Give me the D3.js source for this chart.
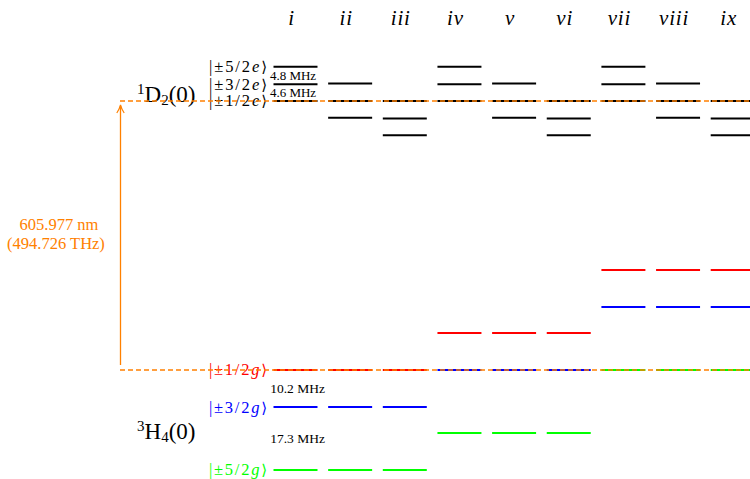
<!DOCTYPE html>
<html>
<head>
<meta charset="utf-8">
<script src="https://cdn.jsdelivr.net/npm/d3@7"></script>
<style>
  html, body { margin: 0; padding: 0; background: #fff; }
  svg { display: block; }
</style>
</head>
<body>
<svg id="chart" width="750" height="479" font-family="'Liberation Serif', 'DejaVu Serif', serif"></svg>
<script>
// Transition columns: each pairs a ground sublevel with an excited sublevel
const columnLabels = ["i", "ii", "iii", "iv", "v", "vi", "vii", "viii", "ix"];
const groundRef  = [0, 0, 0, 1, 1, 1, 2, 2, 2];   // index into groundStates
const excitedRef = [0, 1, 2, 0, 1, 2, 0, 1, 2];   // index into excitedStates

// Hyperfine sublevels (energies in MHz relative to the ±1/2 level)
const groundStates  = ["±1/2", "±3/2", "±5/2"];
const groundEnergy  = [0, -10.2, -27.5];
const groundColors  = ["#ff0000", "#0000ff", "#00ff00"];
const excitedStates = ["±1/2", "±3/2", "±5/2"];
const excitedEnergy = [0, 4.6, 9.4];

// Splitting annotations
const groundGapLabels  = ["10.2 MHz", "17.3 MHz"];
const excitedGapLabels = ["4.6 MHz", "4.8 MHz"];

// Optical transition
const wavelengthLabel = "605.977 nm";
const frequencyLabel  = "(494.726 THz)";

const orange = "#ff8000";
const pxPerMHz = 100 / 27.5;
const svg = d3.select("#chart");

const x = d3.scaleBand()
  .domain(columnLabels)
  .range([273.5, 754.7])
  .paddingInner(0.195)
  .paddingOuter(0);

const yExcited0 = 101, yGround0 = 370;
const yE = d3.scaleLinear().domain([0, 10]).range([yExcited0, yExcited0 - 10 * pxPerMHz]);
const yG = d3.scaleLinear().domain([0, -30]).range([yGround0, yGround0 + 30 * pxPerMHz]);

// Column headers
svg.append("g").selectAll("text")
  .data(columnLabels)
  .join("text")
  .attr("x", d => x(d) + x.bandwidth() / 2 - 4)
  .attr("y", 25)
  .attr("text-anchor", "middle")
  .attr("font-size", 21)
  .attr("font-style", "italic")
  .attr("letter-spacing", 0.8)
  .text(d => d);

// Level lines per column
const lines = [];
columnLabels.forEach((c, k) => {
  excitedEnergy.forEach((e) => {
    lines.push({ c, y: yE(e - excitedEnergy[excitedRef[k]]), color: "#000" });
  });
  groundEnergy.forEach((g, j) => {
    lines.push({ c, y: yG(g - groundEnergy[groundRef[k]]), color: groundColors[j] });
  });
});
svg.append("g").selectAll("line")
  .data(lines)
  .join("line")
  .attr("x1", d => x(d.c))
  .attr("x2", d => x(d.c) + x.bandwidth())
  .attr("y1", d => d.y)
  .attr("y2", d => d.y)
  .attr("stroke", d => d.color)
  .attr("stroke-width", 2);

// Ket labels
function ket(g, label, sub, yPos, color) {
  const t = g.append("text")
    .attr("x", 267)
    .attr("y", yPos)
    .attr("dy", "0.33em")
    .attr("text-anchor", "end")
    .attr("font-size", 16.5)
    .attr("textLength", 58)
    .attr("lengthAdjust", "spacing")
    .attr("fill", color);
  t.append("tspan").text("|" + label);
  t.append("tspan").attr("font-style", "italic").text(sub);
  t.append("tspan").attr("font-family", "DejaVu Serif").attr("font-size", 15).text("\u27E9");
}
const kets = svg.append("g");
excitedStates.forEach((s, j) => ket(kets, s, "e", yE(excitedEnergy[j]), "#000"));
groundStates.forEach((s, j) => ket(kets, s, "g", yG(groundEnergy[j]), groundColors[j]));

// Splitting labels
const gaps = svg.append("g").attr("font-size", 13.5);
excitedGapLabels.forEach((lab, j) => {
  gaps.append("text")
    .attr("x", 293)
    .attr("y", (yE(excitedEnergy[j]) + yE(excitedEnergy[j + 1])) / 2)
    .attr("dy", "0.35em")
    .attr("text-anchor", "middle")
    .attr("font-size", 13)
    .text(lab);
});
groundGapLabels.forEach((lab, j) => {
  gaps.append("text")
    .attr("x", 297.5)
    .attr("y", (yG(groundEnergy[j]) + yG(groundEnergy[j + 1])) / 2)
    .attr("dy", "0.35em")
    .attr("text-anchor", "middle")
    .text(lab);
});

// Manifold labels
function term(sup, letter, sub, yPos) {
  const t = svg.append("text")
    .attr("x", 137)
    .attr("y", yPos)
    .attr("dy", "0.35em")
    .attr("font-size", 23);
  t.append("tspan").attr("font-size", 15).attr("dy", "-0.5em").text(sup);
  t.append("tspan").attr("dy", "0.35em").text(letter);
  t.append("tspan").attr("font-size", 15).attr("dy", "0.25em").text(sub);
  t.append("tspan").attr("dy", "-0.16em").text("(0)");
}
term("1", "D", "2", yE(0));
term("3", "H", "4", 438);

// Optical transition arrow and reference lines
const opt = svg.append("g").attr("stroke", orange).attr("fill", "none");
opt.append("line")
  .attr("x1", 120.5).attr("x2", 120.5)
  .attr("y1", yG(0) - 5).attr("y2", yE(0) + 5)
  .attr("stroke-width", 1.3);
opt.append("path")
  .attr("d", `M116.8,${yE(0) + 12} Q119.5,${yE(0) + 8} 120.5,${yE(0) + 4} Q121.5,${yE(0) + 8} 124.2,${yE(0) + 12}`)
  .attr("stroke-width", 1.2);
[yE(0), yG(0)].forEach(yy => {
  opt.append("line")
    .attr("x1", 120).attr("x2", 750)
    .attr("y1", yy).attr("y2", yy)
    .attr("stroke-width", 1.6)
    .attr("stroke-dasharray", "5,3");
});

svg.append("g")
  .attr("fill", orange)
  .attr("font-size", 16.5)
  .attr("text-anchor", "middle")
  .selectAll("text")
  .data([wavelengthLabel, frequencyLabel])
  .join("text")
  .attr("x", (d, i) => i ? 56 : 59)
  .attr("y", (d, i) => 224 + i * 19.5)
  .attr("dy", "0.35em")
  .text(d => d);
</script>
</body>
</html>
